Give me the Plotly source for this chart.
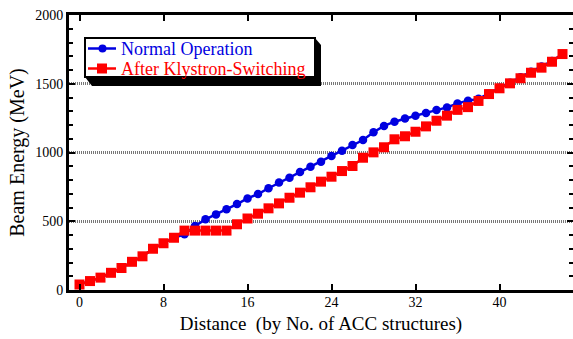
import plotly.graph_objects as go

distance = list(range(47))
normal_op = [40, 65, 90, 125, 160, 205, 245, 300, 340, 380, 405, 465, 514, 550, 587, 625,
             666, 698, 740, 781, 817, 858, 897, 933, 975, 1013, 1055, 1091, 1147, 1193, 1224,
             1248, 1267, 1288, 1309, 1328, 1357, 1377, 1390, 1428, 1470, 1508, 1548, 1588,
             1625, 1665, 1716]
after_switch = [40, 65, 90, 125, 160, 205, 245, 300, 340, 380, 432, 432, 432, 432, 432, 478,
                520, 555, 594, 630, 671, 708, 747, 788, 824, 865, 902, 962, 1001, 1038, 1096,
                1118, 1151, 1190, 1231, 1268, 1310, 1330, 1375, 1425, 1467, 1503, 1540, 1580,
                1617, 1660, 1716]
series_names = ["Normal Operation", "After Klystron-Switching"]
x_ticks = [0, 8, 16, 24, 32, 40]
y_ticks = [0, 500, 1000, 1500, 2000]

BLUE = "#0000e0"
RED = "#ff0000"
FONT = "Times New Roman, Liberation Serif, serif"
W, H = 573, 339
ML, MR, MT, MB = 69, 0, 15, 49
PW, PH = W - ML - MR, H - MT - MB


def px(x):
    return (x - ML) / PW


def py(y):
    return (H - MB - y) / PH


fig = go.Figure()
fig.add_trace(go.Scatter(x=distance, y=normal_op, mode="lines+markers", name=series_names[0],
                         line=dict(color=BLUE, width=2.5),
                         marker=dict(symbol="circle", size=8.5, color=BLUE)))
fig.add_trace(go.Scatter(x=distance, y=after_switch, mode="lines+markers",
                         name=series_names[1],
                         line=dict(color=RED, width=2.5),
                         marker=dict(symbol="square", size=10, color=RED)))

# ---- hand-drawn legend with drop shadow (pixel layout -> paper coords) ----
L, T, R, B = 85, 38, 315, 77
shadow = (f"M {px(L)},{py(B)} L {px(L+7)},{py(B+9)} L {px(R+6)},{py(B+9)} "
          f"L {px(R+6)},{py(T+7)} L {px(R)},{py(T)} Z")
fig.add_shape(type="path", path=shadow, xref="paper", yref="paper",
              fillcolor="black", line=dict(color="black", width=0), layer="above")
fig.add_shape(type="rect", xref="paper", yref="paper", x0=px(L), x1=px(R), y0=py(B), y1=py(T),
              fillcolor="white", line=dict(color="black", width=2), layer="above")
rows = [(48.5, BLUE, "circle"), (68.5, RED, "square")]
for (ry, col, sym), name in zip(rows, series_names):
    fig.add_shape(type="line", xref="paper", yref="paper", x0=px(88), x1=px(116),
                  y0=py(ry), y1=py(ry), line=dict(color=col, width=2.5), layer="above")
    if sym == "circle":
        fig.add_shape(type="circle", xref="paper", yref="paper", x0=px(98.5), x1=px(106.5),
                      y0=py(ry + 4), y1=py(ry - 4), fillcolor=col,
                      line=dict(color=col, width=0), layer="above")
    else:
        fig.add_shape(type="rect", xref="paper", yref="paper", x0=px(97), x1=px(107),
                      y0=py(ry + 5), y1=py(ry - 5), fillcolor=col,
                      line=dict(color=col, width=0), layer="above")
    fig.add_annotation(xref="paper", yref="paper", x=px(119), y=py(ry), text=name,
                       xanchor="left", yanchor="middle", showarrow=False,
                       font=dict(family=FONT, size=18, color=col))

fig.update_layout(
    width=W, height=H,
    margin=dict(l=ML, r=MR, t=MT, b=MB, autoexpand=False),
    paper_bgcolor="white", plot_bgcolor="white",
    font=dict(family=FONT, size=14, color="black"),
    showlegend=False,
    xaxis=dict(range=[-1, 47.0], tickvals=x_ticks, ticks="inside", ticklen=6, tickwidth=2,
               tickcolor="black", showline=True, linecolor="black", linewidth=3,
               mirror="ticks", ticklabelstandoff=-3,
               showgrid=False, zeroline=False, tickfont=dict(family=FONT, size=14),
               automargin=False,
               title=dict(text="Distance\u00a0\u00a0(by No. of ACC structures)",
                          font=dict(family=FONT, size=19), standoff=8)),
    yaxis=dict(range=[0, 2000], tickvals=y_ticks, ticks="inside", ticklen=6, tickwidth=2,
               tickcolor="black", showline=True, linecolor="black", linewidth=3,
               mirror="ticks", automargin=False,
               showgrid=True, gridcolor="#777777", gridwidth=3, griddash="1px,1px",
               zeroline=False, tickfont=dict(family=FONT, size=14),
               minor=dict(dtick=100, ticks="inside", ticklen=4, tickwidth=2,
                          tickcolor="black", showgrid=False),
               title=dict(text="Beam Energy (MeV)", font=dict(family=FONT, size=20),
                          standoff=6)),
)

fig.write_html("out.html", config={"displayModeBar": False},
               post_script="document.body.style.margin='0';")
